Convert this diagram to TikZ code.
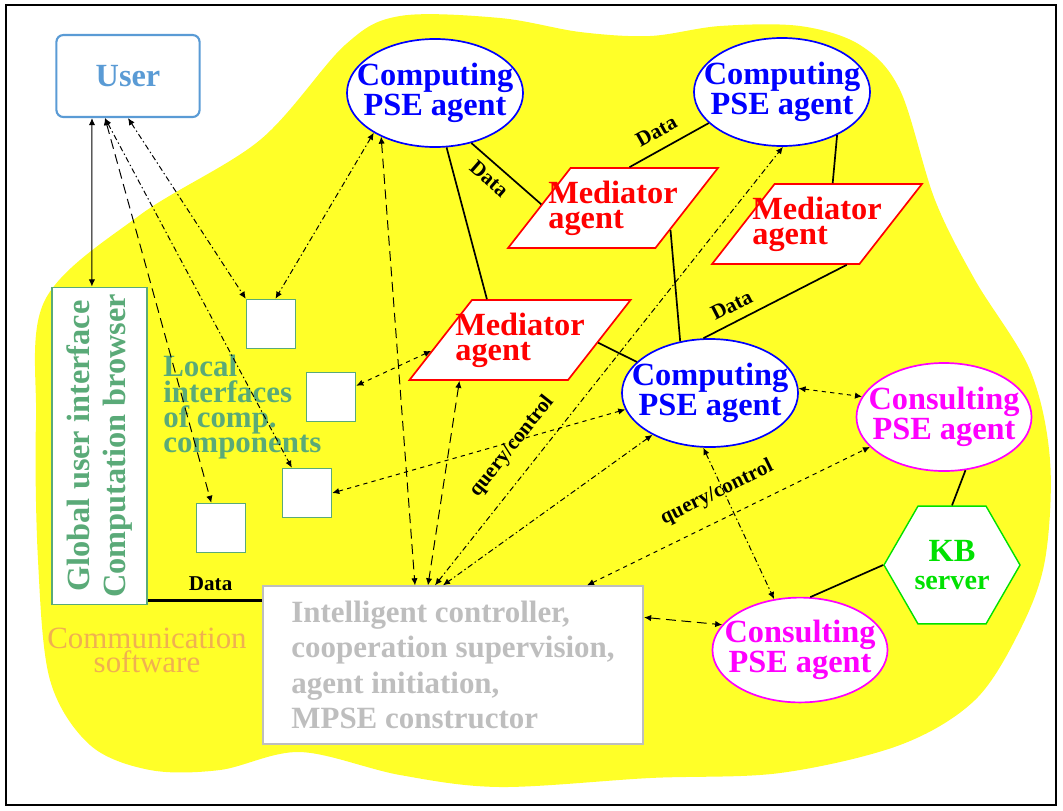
\documentclass[tikz,border=0pt]{standalone}
\usepackage{fontspec}
\setmainfont{Liberation Serif}
\usetikzlibrary{shapes.geometric, arrows.meta}

\definecolor{pseblue}{RGB}{0,0,255}
\definecolor{psemagenta}{RGB}{255,0,255}
\definecolor{medred}{RGB}{255,0,0}
\definecolor{uigreen}{RGB}{90,170,120}
\definecolor{userblue}{RGB}{90,155,213}
\definecolor{kbgreen}{RGB}{0,225,0}
\definecolor{ctrlgray}{RGB}{190,190,190}
\definecolor{commorange}{RGB}{240,176,80}
\definecolor{blobyellow}{RGB}{255,255,40}

\newcommand{\agentfont}{\bfseries\fontsize{23}{18}\selectfont}

\begin{document}
\begin{tikzpicture}[x=0.025cm, y=-0.025cm,
  >={Latex[length=5pt, width=4.5pt]},
  agent/.style={ellipse, line width=1.2pt, fill=white, inner sep=0pt},
  computing/.style={agent, draw=pseblue, minimum width=4.4cm, minimum height=2.7cm,
    label={[align=center, text=pseblue, font=\agentfont]center:#1}},
  consulting/.style={agent, draw=psemagenta, minimum width=4.375cm, minimum height=2.7cm,
    label={[align=center, text=psemagenta, font=\agentfont]center:#1}},
  mediator/.style={trapezium, trapezium left angle=52, trapezium right angle=128,
    draw=medred, line width=1.2pt, fill=white, inner xsep=1.06cm, inner ysep=1cm,
    label={[align=left, text=medred, font=\agentfont]center:#1}},
  localbox/.style={draw=uigreen, line width=1.2pt, fill=white, minimum size=1.22cm},
  link/.style={line width=1.2pt},
  ctrllink/.style={<->, line width=0.7pt},
  longdash/.style={dash pattern=on 7pt off 4pt},
  dashdot/.style={dash pattern=on 4pt off 2pt on 1pt off 2pt},
  datalabel/.style={font=\bfseries\fontsize{15}{15}\selectfont},
]
\useasboundingbox (0,0) rectangle (1063,810);
% Communication software area
\fill[blobyellow] plot[smooth cycle, tension=0.55] coordinates {
  (36,420) (45,300) (140,215) (260,140) (345,45) (400,16) (500,18) (580,32)
  (650,36) (720,26) (800,26) (860,45) (900,90) (935,200) (975,280) (1030,370)
  (1050,460) (1045,560) (1020,630) (975,700) (900,745) (780,773) (650,778)
  (500,787) (400,775) (300,752) (220,770) (150,770) (90,745) (50,680) (38,560)};
% Frame
\draw[line width=1.6pt] (6,5) rectangle (1056,805);

% User side
\node[draw=userblue, line width=1.5pt, fill=white, rounded corners=5pt,
  minimum width=3.58cm, minimum height=2.05cm, text=userblue, font=\agentfont]
  (user) at (128,76) {User};
\node[draw=uigreen, line width=1.2pt, fill=white, minimum width=2.38cm,
  minimum height=7.93cm] (gui) at (99.5,446) {};
\node[rotate=90, align=center, text=uigreen, font=\bfseries\fontsize{23}{26}\selectfont]
  (guitext) at (gui) {Global user interface\\Computation browser};
\node[localbox] (sq1) at (271,324) {};
\node[localbox] (sq2) at (331,397) {};
\node[localbox] (sq3) at (307,493) {};
\node[localbox] (sq4) at (221,528) {};
\node[anchor=north west, align=left, inner sep=0pt, text=uigreen,
  font=\bfseries\fontsize{22}{18}\selectfont] (localtext) at (163,355)
  {Local\\interfaces\\of comp.\\components};
\node[align=center, text=commorange, font=\fontsize{22}{17}\selectfont]
  (commtext) at (147,650) {Communication\\software};

% Controller
\node[draw=ctrlgray, line width=1.5pt, fill=white, minimum width=9.5cm,
  minimum height=3.93cm, align=left, text=ctrlgray,
  font=\bfseries\fontsize{22}{25}\selectfont] (ctrl) at (453,665)
  {Intelligent controller,\\cooperation supervision,\\agent initiation,\\MPSE constructor};

% Agents
\node[computing={Computing\\PSE agent}] (comp1) at (435,93) {};
\node[computing={Computing\\PSE agent}] (comp2) at (782,92) {};
\node[computing={Computing\\PSE agent}] (comp3) at (710,393) {};
\node[mediator={Mediator\\agent}] (med1) at (613,208) {};
\node[mediator={Mediator\\agent}] (med2) at (817,224) {};
\node[mediator={Mediator\\agent}, inner xsep=1.2cm] (med3) at (520,340) {};
\node[consulting={Consulting\\PSE agent}] (cons1) at (944,417) {};
\node[consulting={Consulting\\PSE agent}, minimum height=2.62cm] (cons2) at (800,650) {};
\node[regular polygon, regular polygon sides=6, draw=kbgreen, line width=1pt,
  fill=white, minimum size=3.4cm, inner sep=0pt, align=center, text=kbgreen,
  font=\bfseries\fontsize{23}{20}\selectfont] (kb) at (952,565)
  {KB\\{\fontsize{20}{20}\selectfont server}};

% Data links
\draw[link] (comp1.306) -- node[pos=0.4, sloped, below=2pt, datalabel] (d1) {Data} (med1.177);
\draw[link] (comp1.282) -- (med3.129);
\draw[link] (med1.68) -- node[pos=0.45, sloped, above=4pt, datalabel] (d2) {Data} (comp2.203);
\draw[link] (comp2.322) -- (med2.69);
\draw[link] (med1.339) -- (comp3.120);
\draw[link] (comp3.97) -- node[pos=0.25, sloped, above=3pt, datalabel] (d3) {Data} (med2.306);
\draw[link] (med3.358) -- (comp3.157);
\draw[link] (cons1.292) -- (kb.north);
\draw[link] (kb.west) -- (cons2.79);
\coordinate (dataend) at ([yshift=0.125cm]gui.south east);
\draw[link, line width=1.5pt] (dataend) -- node[pos=0.55, above=3pt, datalabel] (d4) {Data} (dataend -| ctrl.west);

% Query and control links
\draw[ctrllink] ([xshift=-0.9cm]user.south) -- ([xshift=-0.19cm]gui.north);
\draw[ctrllink, longdash] ([xshift=-0.575cm]user.south) -- (sq4.111);
\draw[ctrllink, dashdot] ([xshift=-0.575cm]user.south) -- (sq3.121);
\draw[ctrllink, dashdot] (user.south) -- (sq1.north west);
\draw[ctrllink, dashdot] (comp1.213) -- (sq1.80);
\draw[ctrllink, longdash] (comp1.219) -- ([xshift=-0.95cm]ctrl.north);
\draw[ctrllink, longdash] (med3.214) -- ([xshift=-0.625cm]ctrl.north);
\draw[ctrllink, dashed] (med3.187) -- (sq2.24);
\draw[ctrllink, dashed] (comp3.191) -- (sq3.east);
\draw[ctrllink, dashdot] (comp3.216) -- ([xshift=-0.25cm]ctrl.north);
\draw[ctrllink, dashdot] ([xshift=-0.45cm]ctrl.north) -- node[pos=0.28, sloped, above=8pt, datalabel] (qc1) {query/control} (comp2.271);
\draw[ctrllink, dashed] ([xshift=3.35cm]ctrl.north) -- node[pos=0.5, sloped, above=8pt, datalabel] (qc2) {query/control} (cons1.202);
\draw[ctrllink, dashed] (comp3.3) -- (cons1.166);
\draw[ctrllink, dashdot] (comp3.263) -- (cons2.117);
\draw[ctrllink, longdash] (ctrl.14) -- (cons2.162);
\end{tikzpicture}
\end{document}
